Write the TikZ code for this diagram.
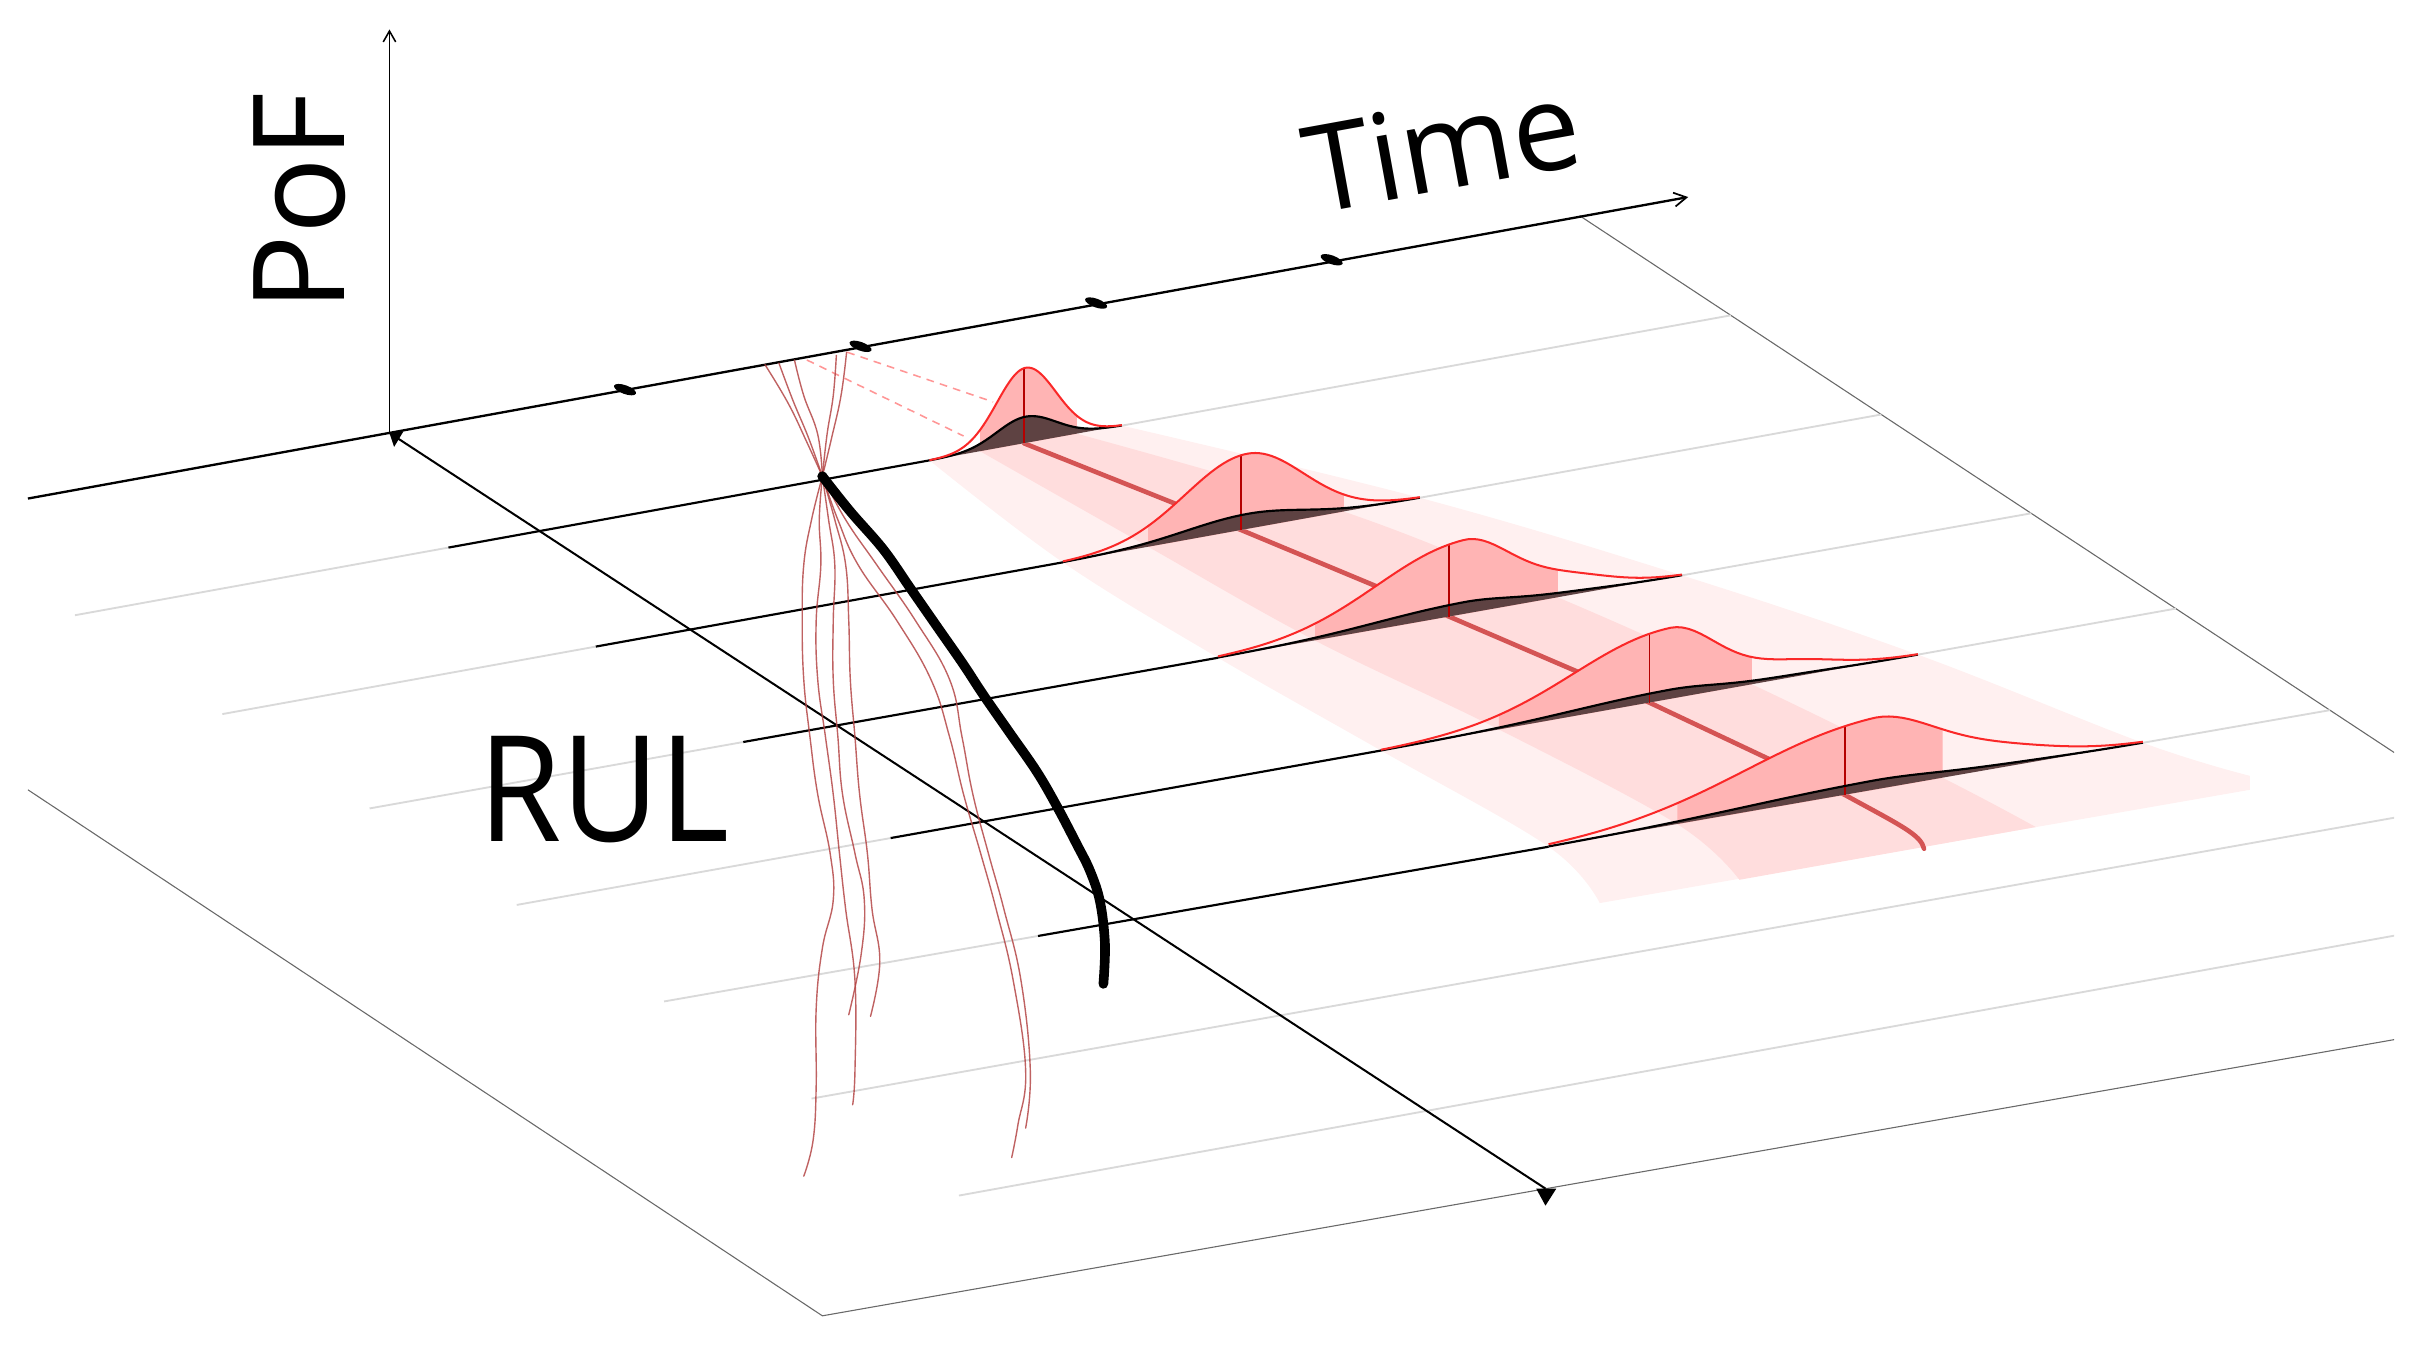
\documentclass[tikz,border=0pt]{standalone}
\usepackage{fontspec}
\setmainfont{Open Sans}
\usepackage{graphicx}
\usetikzlibrary{arrows.meta}
\definecolor{gridgrey}{RGB}{217,217,217}
\definecolor{edgegrey}{RGB}{105,105,105}
\definecolor{ribout}{RGB}{255,240,240}
\definecolor{ribmid}{RGB}{255,221,221}
\definecolor{gfillc}{RGB}{255,180,180}
\definecolor{gredc}{RGB}{250,40,40}
\definecolor{gvertc}{RGB}{180,0,0}
\definecolor{gdarkc}{RGB}{94,66,66}
\definecolor{clinec}{RGB}{212,84,84}
\definecolor{pathc}{RGB}{180,70,70}
\definecolor{dashc}{RGB}{255,150,150}

\newcommand\sq[1]{((#1)*(#1))}
\newcommand\gfx[1]{(\gA*exp(max(-9,-0.5*\sq{((#1)-\gm)/(\gsR+(\gsL-\gsR)*((#1)<\gm))}))+\gBB*exp(max(-9,-0.5*\sq{((#1)-\gm-\gmm)/\gss})))}
\newcommand\drawgauss{%
 \fill[gfillc] plot[domain=\gfL:\gfR,samples=50,variable=\gu] ({\gC+\gu},{\gB+(\gk)*(\gu)-\gH*\gfx{\gu}}) -- ({\gC+\gfR},{\gB+(\gk)*(\gfR)}) -- ({\gC+\gfL},{\gB+(\gk)*(\gfL)}) -- cycle;
 \fill[gdarkc] plot[domain=\guL:\guR,samples=90,variable=\gu] ({\gC+\gu},{\gB+(\gk)*(\gu)-\gq*\gH*\gfx{\gu}}) -- cycle;
 \draw[gvertc,line width=1.1pt] (\gC,\gB) -- ({\gC},{\gB-\gH*\gfx{0}});
 \draw[black,line width=1.4pt] plot[domain=\guL:\guR,samples=90,variable=\gu] ({\gC+\gu},{\gB+(\gk)*(\gu)-\gq*\gH*\gfx{\gu}});
 \draw[gredc,line width=1.3pt] plot[domain=\guL:\guR,samples=90,variable=\gu] ({\gC+\gu},{\gB+(\gk)*(\gu)-\gH*\gfx{\gu}});
}

\tikzset{
 gridline/.style={gridgrey,line width=1.2pt},
 edgeline/.style={edgegrey,line width=0.7pt},
 rowblack/.style={black,line width=1.4pt},
 redpath/.style={pathc,line width=0.9pt,opacity=0.85,line cap=round},
 dashline/.style={dashc,line width=1pt,dash pattern=on 5pt off 4pt},
 bigtext/.style={inner sep=0pt,text=black}
}

\begin{document}
\begin{tikzpicture}[x=1pt,y=-1pt,line join=round]
\useasboundingbox (0,0) rectangle (1568,867);

% ---------- key coordinates
\coordinate (O) at (251,279);
\coordinate (REa) at (1018,139);
\coordinate (REb) at (1543,485);
\coordinate (S1) at (48.3,396.5);  \coordinate (G1) at (660,285.7);
\coordinate (S2) at (143.3,460.2); \coordinate (G2) at (800,341.6);
\coordinate (S3) at (238.2,521.0); \coordinate (G3) at (934,397.4);
\coordinate (S4) at (333,583.2);   \coordinate (G4) at (1063,452.8);
\coordinate (S5) at (428,645.4);   \coordinate (G5) at (1189,512.3);
\coordinate (S6) at (523,708);     \coordinate (E6) at (1543,527);
\coordinate (S7) at (618,770.5);   \coordinate (E7) at (1543,603);
\coordinate (E1) at (intersection of S1--G1 and REa--REb);
\coordinate (E2) at (intersection of S2--G2 and REa--REb);
\coordinate (E3) at (intersection of S3--G3 and REa--REb);
\coordinate (E4) at (intersection of S4--G4 and REa--REb);
\coordinate (E5) at (intersection of S5--G5 and REa--REb);
% black starts
\coordinate (K1) at (289,352.9); \coordinate (K2) at (384,416.7); \coordinate (K3) at (479,478.2);
\coordinate (K4) at (574,540.1); \coordinate (K5) at (669,603.2);
% gaussian left / right ends
\coordinate (L1) at (599,296.7); \coordinate (R1) at (723,274.3);
\coordinate (L2) at (685,362.4); \coordinate (R2) at (915,320.8);
\coordinate (L3) at (785,423.9); \coordinate (R3) at (1084,370.8);
\coordinate (L4) at (890,483.7); \coordinate (R4) at (1236,421.9);
\coordinate (L5) at (998,545.7); \coordinate (R5) at (1381,478.7);
\coordinate (P0) at (530,307);

% ---------- ribbons
\fill[ribout] plot[smooth,tension=0.6] coordinates {(L1) (L2) (L3) (L4) (L5) (1031,582)}
  -- (1450,509) -- plot[smooth,tension=0.6] coordinates {(1450,500) (R5) (R4) (R3) (R2) (R1)} -- cycle;
\fill[ribmid] plot[smooth,tension=0.6] coordinates {(631.6,290.8) (740,352.4) (847.5,412.8) (966,470.1) (1081,531.2) (1121,567)}
  -- plot[smooth,tension=0.6] coordinates {(1312,533) (1252,501.3) (1129,441.0) (1004,385.0) (866,329.7) (694,279.5)} -- cycle;

% ---------- plane
\begin{scope}
\clip (18,0) rectangle (1543,867);
\draw[edgeline] (18,509) -- (530,848) -- (1543,670);
\draw[edgeline] (REa) -- (REb);
\draw[gridline] (S1) -- (K1) (R1) -- (E1);
\draw[gridline] (S2) -- (K2) (R2) -- (E2);
\draw[gridline] (S3) -- (K3) (R3) -- (E3);
\draw[gridline] (S4) -- (K4) (R4) -- (E4);
\draw[gridline] (S5) -- (K5) (R5) -- (E5);
\draw[gridline] (S6) -- (E6);
\draw[gridline] (S7) -- (E7);
\draw[rowblack] (K1) -- (L1) (K2) -- (L2) (K3) -- (L3) (K4) -- (L4) (K5) -- (L5);
\end{scope}

% ---------- axes
\draw[black,line width=1pt,-{Straight Barb[length=7pt,width=8pt,line width=1pt]}] (O) -- (251,19);
\draw[black,line width=1.5pt,-{Straight Barb[length=8pt,width=9pt,line width=1.1pt]}] (18,321.3) -- (1088,127);
\draw[black,line width=1.3pt] (O) -- (996,766);
\fill[black] (251,279) -- (260,278) -- (254,288) -- cycle;
\fill[black] (990,766) -- (1003,766) -- (996,777) -- cycle;
\foreach \p in {(402.8,251.1),(554.6,223.2),(706.4,195.3),(858.2,167.4)}
  \fill[black,rotate around={-20:\p}] \p ellipse (7.5 and 2.8);

% ---------- center line
\draw[clinec,line width=3pt,line cap=round] (G1) -- (G2) -- (G3) -- (G4) -- (G5) .. controls (1225,532) and (1238,538) .. (1240,547);

% ---------- dashed
\draw[dashline] (520,232) -- (621,281);
\draw[dashline] (546,227) -- (640,259);

% ---------- red paths
\draw[redpath] plot[smooth,tension=0.7] coordinates {(P0) (523,335) (518,364) (517,400) (518,438) (522,475) (527,512) (535,550) (537,580) (530,611) (526,650) (526,700) (524,735) (518,758)};
\draw[redpath] plot[smooth,tension=0.7] coordinates {(P0) (528,335) (529,364) (526,400) (527,438) (532,475) (537,512) (541,550) (545,586) (551,632) (551,690) (549.5,712)};
\draw[redpath] plot[smooth,tension=0.7] coordinates {(P0) (534,335) (538,364) (537,400) (537,438) (540,475) (543,512) (551,550) (557,580) (555,615) (547,654)};
\draw[redpath] plot[smooth,tension=0.7] coordinates {(P0) (538,335) (545,364) (547,400) (548,438) (551,475) (554,512) (559,550) (562,586) (567,620) (561,655)};
\draw[redpath] plot[smooth,tension=0.7] coordinates {(P0) (540,335) (553,364) (578,400) (600,438) (612,475) (621,512) (632,550) (642,586) (653,632) (661,690) (656,725) (652,746)};
\draw[redpath] plot[smooth,tension=0.7] coordinates {(P0) (545,335) (565,364) (590,400) (612,438) (620,475) (627,512) (637,550) (647,586) (658,632) (664,690) (661,727)};
\draw[redpath] plot[smooth,tension=0.7] coordinates {(P0) (520,285) (508,260) (493,235)};
\draw[redpath] plot[smooth,tension=0.7] coordinates {(P0) (521,282) (511,258) (502,234)};
\draw[redpath] plot[smooth,tension=0.7] coordinates {(P0) (527,280) (518,255) (512,232)};
\draw[redpath] plot[smooth,tension=0.7] coordinates {(P0) (533,280) (537,255) (539,229)};
\draw[redpath] plot[smooth,tension=0.7] coordinates {(P0) (536,282) (542,255) (545.6,227)};

% ---------- gaussians
\def\gC{660}\def\gB{285.7}\def\gk{-0.1811}\def\gH{48.5}\def\gm{1}\def\gsL{18.5}\def\gsR{19.5}\def\gA{1}\def\gBB{0}\def\gmm{0}\def\gss{50}\def\guL{-61}\def\guR{63}\def\gfL{-28.4}\def\gfR{34}\def\gq{0.35}
\drawgauss
\def\gC{800}\def\gB{341.6}\def\gk{-0.1806}\def\gH{48.5}\def\gm{4}\def\gsL{40}\def\gsR{36}\def\gA{1}\def\gBB{0}\def\gmm{0}\def\gss{50}\def\guL{-115}\def\guR{115}\def\gfL{-60}\def\gfR{66}\def\gq{0.2}
\drawgauss
\def\gC{934}\def\gB{397.4}\def\gk{-0.1776}\def\gH{48}\def\gm{9}\def\gsL{56}\def\gsR{30}\def\gA{0.97}\def\gBB{0.25}\def\gmm{65}\def\gss{30}\def\guL{-149}\def\guR{150}\def\gfL{-86.5}\def\gfR{70}\def\gq{0.16}
\drawgauss
\def\gC{1063}\def\gB{452.8}\def\gk{-0.1786}\def\gH{46.5}\def\gm{13}\def\gsL{62}\def\gsR{30}\def\gA{0.97}\def\gBB{0.22}\def\gmm{75}\def\gss{32}\def\guL{-173}\def\guR{173}\def\gfL{-97}\def\gfR{66}\def\gq{0.13}
\drawgauss
\def\gC{1189}\def\gB{512.3}\def\gk{-0.1749}\def\gH{47}\def\gm{17}\def\gsL{81}\def\gsR{40}\def\gA{0.95}\def\gBB{0.25}\def\gmm{80}\def\gss{40}\def\guL{-191}\def\guR{192}\def\gfL{-108}\def\gfR{63}\def\gq{0.13}
\drawgauss

% ---------- thick black curve
\draw[black,line width=6.2pt,line cap=round] plot[smooth,tension=0.6] coordinates {(P0) (547.8,329.4) (569.3,354.1) (586.5,378.8) (603.6,403.4) (620.8,428.1) (633.7,447.8) (650.9,472.5) (668.1,497.2) (681,519.4) (693.9,544) (702.5,561.3) (708.9,581) (712.1,608.2) (711.1,634.1)};
\fill[black] (P0) circle (3.2);

% ---------- labels
\node[bigtext,anchor=base west,rotate=90,font=\fontsize{82}{90}\selectfont] (pof) at (222,201) {PoF};
\node[bigtext,anchor=base west,rotate=10.3,font=\fontsize{78}{90}\selectfont] (timelbl) at (846,138) {Time};
\node[bigtext,anchor=base west,font=\fontsize{95}{100}\selectfont] (rul) at (308,542.4) {\scalebox{0.915}[1]{RUL}};
\end{tikzpicture}
\end{document}
